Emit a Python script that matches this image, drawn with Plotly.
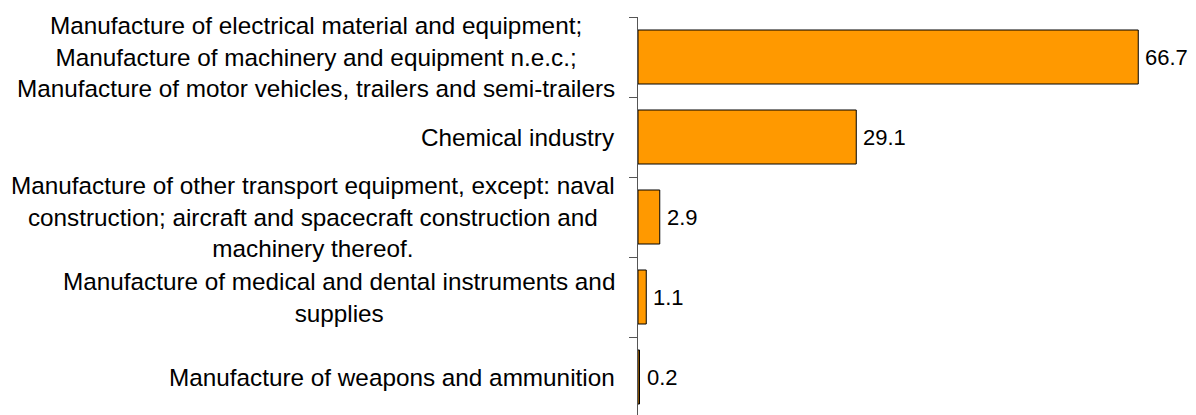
import plotly.graph_objects as go

categories = [
    "Manufacture of electrical material and equipment;<br>Manufacture of machinery and equipment n.e.c.;<br>Manufacture of motor vehicles, trailers and semi-trailers",
    "Chemical industry",
    "Manufacture of other transport equipment, except: naval<br>construction; aircraft and spacecraft construction and<br>machinery thereof.",
    "Manufacture of medical and dental instruments and<br>supplies",
    "Manufacture of weapons and ammunition",
]
values = [66.7, 29.1, 2.9, 1.1, 0.2]
value_labels = ["66.7", "29.1", "2.9", "1.1", "0.2"]

FONT = "Arial, Liberation Sans, sans-serif"
FS_CAT = 24.3
FS_VAL = 22

fig = go.Figure()
fig.add_trace(go.Bar(
    x=values,
    y=list(range(len(categories))),
    orientation="h",
    marker=dict(color="#FF9900", line=dict(color="#000000", width=1)),
    hoverinfo="skip",
))

annotations = []
for i, (cat, v, lab) in enumerate(zip(categories, values, value_labels)):
    annotations.append(dict(
        x=0, xref="paper", y=i, yref="y",
        text=cat, showarrow=False, xanchor="right", yanchor="middle",
        align="center", xshift=-21,
        font=dict(family=FONT, size=FS_CAT, color="#000000"),
    ))
    annotations.append(dict(
        x=v, xref="x", y=i, yref="y",
        text=lab, showarrow=False, xanchor="left", yanchor="middle",
        xshift=5,
        font=dict(family=FONT, size=FS_VAL, color="#000000"),
    ))

# the page body adds an 8px offset, so the figure is sized/margined to compensate
fig.update_layout(
    width=1188, height=407,
    margin=dict(l=630, r=0, t=9, b=0),
    paper_bgcolor="white", plot_bgcolor="white",
    bargap=0.325,
    showlegend=False,
    annotations=annotations,
    xaxis=dict(range=[0, 74.4], visible=False, showgrid=False, zeroline=False),
    yaxis=dict(
        range=[4.475, -0.5],
        tickmode="array",
        tickvals=[-0.5, 0.5, 1.5, 2.5, 3.5, 4.5],
        ticktext=["", "", "", "", "", ""],
        ticks="outside", ticklen=8, tickcolor="#555555", tickwidth=1,
        showline=True, linecolor="#555555", linewidth=1,
        showgrid=False, zeroline=False,
    ),
)

fig.write_html("out.html")
